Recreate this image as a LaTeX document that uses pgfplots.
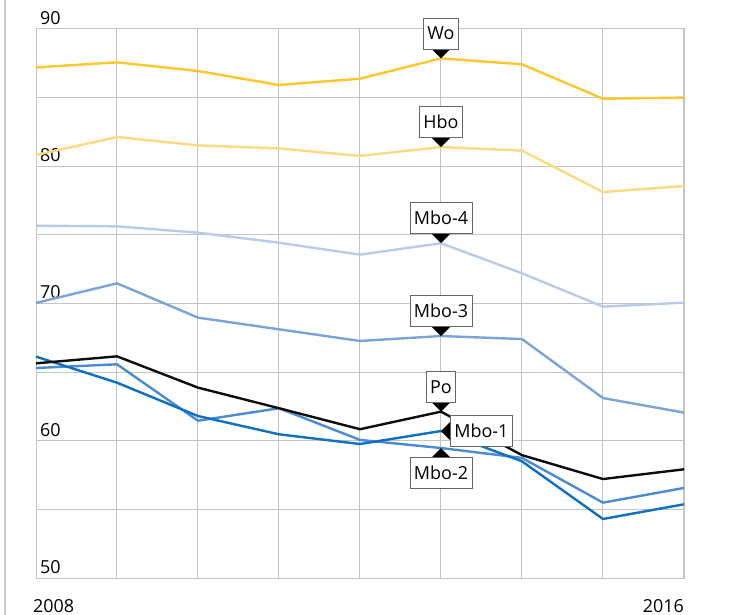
\documentclass[border=0pt]{standalone}
\usepackage{pgfplots}
\pgfplotsset{compat=1.18}
\usepackage{fontspec}
\setmainfont{Open Sans}
\definecolor{cWo}{HTML}{FFC72C}
\definecolor{cHbo}{HTML}{FFD97F}
\definecolor{cMfour}{HTML}{B7CBEA}
\definecolor{cMthree}{HTML}{7AA3D9}
\definecolor{cMtwo}{HTML}{4A8CD4}
\definecolor{cMone}{HTML}{0F6FC1}
\definecolor{cGrid}{HTML}{C4C4C4}
\begin{document}
\fontsize{18}{21}\selectfont
\begin{tikzpicture}[
  callout/.style={draw=black!60, line width=0.8bp, fill=white, inner xsep=4bp, inner ysep=9bp, text height=13bp, text depth=0bp, font=\fontsize{18}{21}\selectfont}]
\useasboundingbox (-36bp,-37bp) rectangle (693bp,578bp);
\draw[cGrid!90, line width=2bp] (-31bp,-37bp) -- (-31bp,578bp);
\begin{axis}[
  at={(0,0)}, anchor=south west,
  scale only axis, width=648bp, height=549bp,
  xmin=2008, xmax=2016, ymin=50, ymax=90,
  xtick={2008,2009,...,2016},
  xticklabels={\makebox[0pt][l]{\hspace{-3bp}2008},,,,,,,,\makebox[0pt][r]{2016}},
  ytick={50,55,...,90},
  yticklabels={50,,60,,70,,80,,90},
  /pgf/number format/assume math mode=true,
  major tick length=0pt,
  grid=major,
  grid style={cGrid, line width=1bp},
  axis line style={cGrid, line width=1bp},
  ticklabel style={font=\fontsize{18}{21}\selectfont, text=black},
  yticklabel style={anchor=base west, inner sep=0pt, xshift=4bp, yshift=4.5bp},
  xticklabel style={anchor=base, inner sep=0pt, yshift=-34bp},
  clip=false,
  every axis plot/.append style={line width=2.4bp, line join=round},
]
\addplot[cWo] coordinates {(2008,87.2) (2009,87.57) (2010,86.94) (2011,85.92) (2012,86.38) (2013,87.86) (2014,87.43) (2015,84.92) (2016,85.0)};
\addplot[cHbo] coordinates {(2008,80.82) (2009,82.13) (2010,81.52) (2011,81.3) (2012,80.75) (2013,81.4) (2014,81.14) (2015,78.12) (2016,78.56)};
\addplot[cMfour] coordinates {(2008,75.67) (2009,75.62) (2010,75.16) (2011,74.43) (2012,73.56) (2013,74.39) (2014,72.2) (2015,69.77) (2016,70.06)};
\addplot[cMthree] coordinates {(2008,70.04) (2009,71.47) (2010,68.97) (2011,68.12) (2012,67.27) (2013,67.63) (2014,67.41) (2015,63.11) (2016,62.05)};
\addplot[cMtwo] coordinates {(2008,65.3) (2009,65.57) (2010,61.46) (2011,62.37) (2012,60.06) (2013,59.47) (2014,58.75) (2015,55.49) (2016,56.56)};
\addplot[cMone] coordinates {(2008,66.13) (2009,64.23) (2010,61.8) (2011,60.47) (2012,59.76) (2013,60.71) (2014,58.5) (2015,54.3) (2016,55.37)};
\addplot[black!95] coordinates {(2008,65.64) (2009,66.15) (2010,63.87) (2011,62.37) (2012,60.84) (2013,62.12) (2014,58.95) (2015,57.21) (2016,57.92)};
\coordinate (pWo) at (axis cs:2013,87.86);
\coordinate (pHbo) at (axis cs:2013,81.4);
\coordinate (pMf) at (axis cs:2013,74.39);
\coordinate (pMt) at (axis cs:2013,67.63);
\coordinate (pPo) at (axis cs:2013,62.12);
\coordinate (pMo) at (axis cs:2013,60.71);
\coordinate (pMw) at (axis cs:2013,59.47);
\end{axis}
\foreach \p/\t in {pWo/Wo, pHbo/Hbo, pMf/Mbo-4, pMt/Mbo-3, pPo/Po}{
  \fill[black] (\p) -- ++(-9bp,9bp) -- ++(18bp,0) -- cycle;
  \node[callout, anchor=south] at ([yshift=9bp]\p) {\t};
}
\fill[black] (pMo) -- ++(9bp,9bp) -- ++(0,-18bp) -- cycle;
\node[callout, anchor=west] at ([xshift=9bp]pMo) {Mbo-1};
\fill[black] (pMw) -- ++(-9bp,-9bp) -- ++(18bp,0) -- cycle;
\node[callout, anchor=north] at ([yshift=-9bp]pMw) {Mbo-2};
\end{tikzpicture}
\end{document}
